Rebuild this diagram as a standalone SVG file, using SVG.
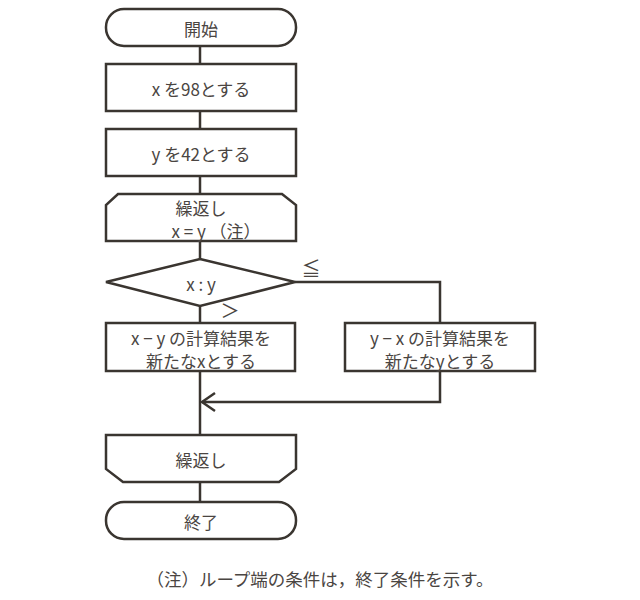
<svg xmlns="http://www.w3.org/2000/svg" width="640" height="600" viewBox="0 0 640 600">
<style>
.s{fill:#fff;stroke:#3a3530;stroke-width:2.5}
.c{fill:none;stroke:#3a3530;stroke-width:2.5}
text{font-family:"Noto Sans CJK JP","Noto Sans",sans-serif;font-size:17px;fill:#4a4542;text-anchor:middle;dominant-baseline:central}
</style>
<rect width="640" height="600" fill="#fff"/>
<g id="connectors">
<line class="c" x1="200" y1="46" x2="200" y2="64"/>
<line class="c" x1="200" y1="111" x2="200" y2="129"/>
<line class="c" x1="200" y1="176" x2="200" y2="194"/>
<line class="c" x1="200" y1="241" x2="200" y2="259"/>
<line class="c" x1="200" y1="306" x2="200" y2="323"/>
<polyline class="c" points="295,282 440,282 440,323"/>
<line class="c" x1="200" y1="371" x2="200" y2="435"/>
<polyline class="c" points="440,371 440,402 202,402"/>
<polyline class="c" points="215,393 202,402 215,411"/>
<line class="c" x1="200" y1="482" x2="200" y2="502"/>
<text x="311" y="267" style="font-size:19px">≦</text>
<text x="230" y="309" style="font-size:19px">＞</text>
</g>
<g id="start">
<rect class="s" x="106" y="9" width="190" height="37" rx="18"/>
<text x="201" y="28">開始</text>
</g>
<g id="setx">
<rect class="s" x="106" y="64" width="190" height="47"/>
<text x="201" y="88">x を98とする</text>
</g>
<g id="sety">
<rect class="s" x="106" y="129" width="190" height="47"/>
<text x="201" y="153">y を42とする</text>
</g>
<g id="loopstart">
<polygon class="s" points="118,194 282,194 296,205 296,241 106,241 106,205"/>
<text x="201" y="207">繰返し</text>
<text x="216" y="230">x = y （注）</text>
</g>
<g id="decision">
<polygon class="s" points="200,259 295,282 200,306 106,282"/>
<text x="201" y="283">x : y</text>
</g>
<g id="updx">
<rect class="s" x="106" y="323" width="189" height="48"/>
<text x="201" y="337">x − y の計算結果を<tspan x="201" dy="23">新たなxとする</tspan></text>
</g>
<g id="updy">
<rect class="s" x="345" y="323" width="190" height="48"/>
<text x="440" y="337">y − x の計算結果を<tspan x="440" dy="23">新たなyとする</tspan></text>
</g>
<g id="loopend">
<polygon class="s" points="106,435 296,435 296,469 279,482 123,482 106,469"/>
<text x="201" y="459">繰返し</text>
</g>
<g id="end">
<rect class="s" x="106" y="502" width="190" height="37" rx="18"/>
<text x="201" y="521">終了</text>
</g>
<text x="320" y="578" style="font-size:17.5px">（注）ループ端の条件は，終了条件を示す。</text>
</svg>
